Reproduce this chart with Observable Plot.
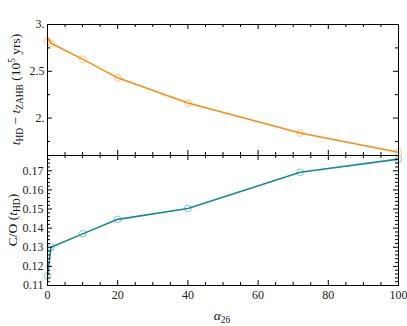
<!DOCTYPE html>
<html><head><meta charset="utf-8">
<script src="https://cdn.jsdelivr.net/npm/d3@7"></script>
<script src="https://cdn.jsdelivr.net/npm/@observablehq/plot@0.6"></script>
<style>
body{margin:0;background:#fff;}
#chart{position:relative;width:407px;height:326px;}
#chart svg{position:absolute;left:0;top:0;display:block;}
</style></head><body><div id="chart"></div>
<script>
// ---- data ----
const alpha = [0, 1, 10, 20, 40, 72, 100];
const tGapPoints = [2.82, 2.80, 2.63, 2.43, 2.16, 1.84, 1.635];
const tGapLine = [2.86, 2.80, 2.63, 2.43, 2.16, 1.84, 1.635];
const coRatio = [0.115, 0.130, 0.137, 0.1446, 0.1503, 0.1692, 0.1761];

// ---- ticks ----
const xMajor = [0, 20, 40, 60, 80, 100];
const xMinor = [5, 10, 15, 25, 30, 35, 45, 50, 55, 65, 70, 75, 85, 90, 95];
const yTopMajor = [2, 2.5, 3];
const yTopMinor = [1.75, 2.25, 2.75];
const yTopLabels = ["2.", "2.5", "3."];
const yBotMajor = [0.11, 0.12, 0.13, 0.14, 0.15, 0.16, 0.17];
const yBotLabels = ["0.11", "0.12", "0.13", "0.14", "0.15", "0.16", "0.17"];
const yBotMinor = [0.112,0.114,0.116,0.118,0.122,0.124,0.126,0.128,0.132,0.134,0.136,0.138,
  0.142,0.144,0.146,0.148,0.152,0.154,0.156,0.158,0.162,0.164,0.166,0.168,0.172,0.174,0.176];

const orange = "#ff8c12";
const teal = "#138b8b";
const W = 407, Htot = 326, mL = 47, mR = 9;
const pw = W - mL - mR;
const FONT = "'Liberation Serif', 'DejaVu Serif', serif";

function tickMarks(xMaj, xMin, yMaj, yMin, ph) {
  const maj = 5, mn = 3;
  return [
    Plot.ruleX(xMaj, {x: d => d, insetBottom: ph - maj, stroke: "#000"}),
    Plot.ruleX(xMin, {x: d => d, insetBottom: ph - mn, stroke: "#000"}),
    Plot.ruleX(xMaj, {x: d => d, insetTop: ph - maj, stroke: "#000"}),
    Plot.ruleX(xMin, {x: d => d, insetTop: ph - mn, stroke: "#000"}),
    Plot.ruleY(yMaj, {y: d => d, insetRight: pw - maj, stroke: "#000"}),
    Plot.ruleY(yMin, {y: d => d, insetRight: pw - mn, stroke: "#000"}),
    Plot.ruleY(yMaj, {y: d => d, insetLeft: pw - maj, stroke: "#000"}),
    Plot.ruleY(yMin, {y: d => d, insetLeft: pw - mn, stroke: "#000"})
  ];
}

const idx = alpha.map((_, i) => i);

// top panel: frame 24..155
const topTop = 24, topBot = 155;
const topPlot = Plot.plot({
  width: W, height: Htot,
  marginLeft: mL, marginRight: mR, marginTop: topTop, marginBottom: Htot - topBot,
  style: {background: "none", fontFamily: FONT, fontSize: "12px", color: "#222"},
  x: {domain: [0, 100]},
  y: {domain: [1.6, 3.0]},
  marks: [
    Plot.axisX({ticks: [], label: null, tickSize: 0}),
    Plot.axisY({ticks: yTopMajor, tickFormat: d => yTopLabels[yTopMajor.indexOf(d)], tickSize: 0, tickPadding: 3, label: null}),
    Plot.line(idx, {x: i => alpha[i], y: i => tGapLine[i], stroke: orange, strokeWidth: 1.6}),
    Plot.dot(idx, {x: i => alpha[i], y: i => tGapPoints[i], r: 3.4, stroke: orange, strokeOpacity: 0.5, fill: "none", strokeWidth: 1}),
    ...tickMarks(xMajor, xMinor, yTopMajor, yTopMinor, topBot - topTop),
    Plot.frame({stroke: "#000", strokeWidth: 1})
  ]
});

// bottom panel: frame 155..285
const botTop = 155, botBot = 285;
const botPlot = Plot.plot({
  width: W, height: Htot,
  marginLeft: mL, marginRight: mR, marginTop: botTop, marginBottom: Htot - botBot,
  style: {background: "none", fontFamily: FONT, fontSize: "12px", color: "#222"},
  x: {domain: [0, 100]},
  y: {domain: [0.11, 0.178]},
  marks: [
    Plot.axisX({ticks: xMajor, tickSize: 0, tickPadding: 5, label: null, tickFormat: d => String(d)}),
    Plot.axisY({ticks: yBotMajor, tickFormat: d => yBotLabels[yBotMajor.indexOf(d)], tickSize: 0, tickPadding: 4, label: null}),
    Plot.line(idx, {x: i => alpha[i], y: i => coRatio[i], stroke: teal, strokeWidth: 1.6}),
    Plot.dot(idx, {x: i => alpha[i], y: i => coRatio[i], r: 3.4, stroke: teal, strokeOpacity: 0.5, fill: "none", strokeWidth: 1}),
    ...tickMarks(xMajor, xMinor, yBotMajor, yBotMinor, botBot - botTop),
    Plot.frame({stroke: "#000", strokeWidth: 1})
  ]
});

const chart = document.getElementById("chart");
chart.appendChild(topPlot);
chart.appendChild(botPlot);

// axis titles with sub/superscripts
const svg = d3.select(botPlot);
function addText(x, y, rot, parts, size) {
  const t = svg.append("text")
    .attr("transform", `translate(${x},${y}) rotate(${rot})`)
    .attr("text-anchor", "middle")
    .attr("font-family", FONT)
    .attr("font-size", size)
    .attr("fill", "#111");
  let cur = 0;
  for (const p of parts) {
    const s = t.append("tspan").text(p.t);
    const shift = p.sub ? 3 : p.sup ? -5 : 0;
    if (shift !== cur) { s.attr("dy", shift - cur); cur = shift; }
    if (p.sub || p.sup) s.attr("font-size", size * 0.7);
    if (p.i) s.attr("font-style", "italic");
  }
}
addText(20, 89.5, -90, [
  {t: "t", i: true}, {t: "HD", sub: true}, {t: " − "}, {t: "t", i: true}, {t: "ZAHB", sub: true},
  {t: " (10"}, {t: "5", sup: true}, {t: " yrs)"}
], 13.5);
addText(17, 220, -90, [
  {t: "C/O ("}, {t: "t", i: true}, {t: "HD", sub: true}, {t: ")"}
], 13.5);
addText(222, 320, 0, [
  {t: "α", i: true}, {t: "26", sub: true}
], 13.5);
</script></body></html>
